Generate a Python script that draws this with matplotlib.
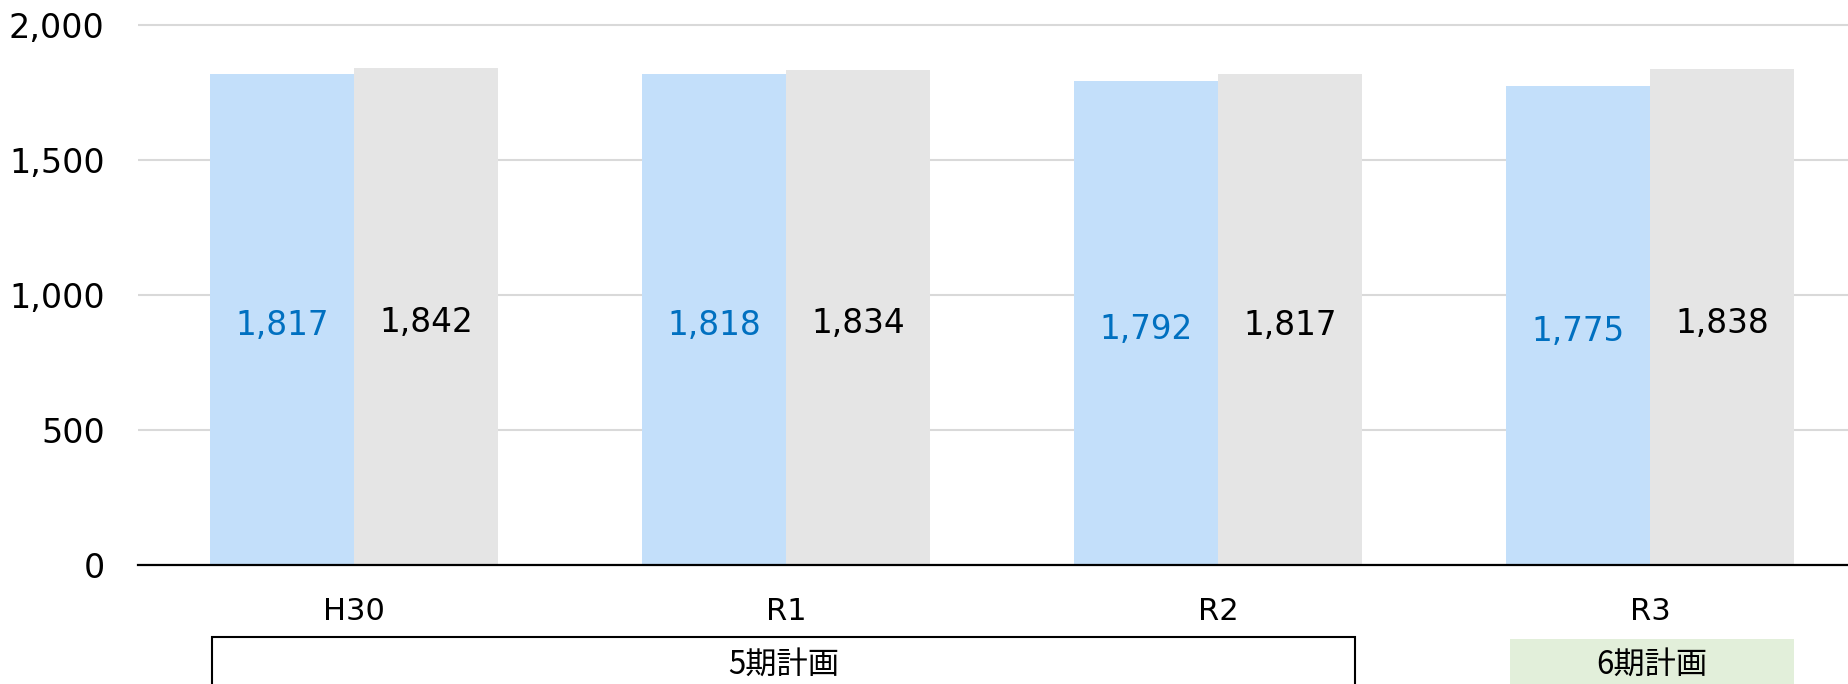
import matplotlib
matplotlib.use("Agg")
import matplotlib.pyplot as plt
from matplotlib.patches import Rectangle
from matplotlib.transforms import blended_transform_factory
import numpy as np

plt.rcParams['font.family'] = ['DejaVu Sans', 'Noto Sans CJK JP']

categories = ["H30", "R1", "R2", "R3"]
series_a = [1817, 1818, 1792, 1775]   # blue
series_b = [1842, 1834, 1817, 1838]   # gray
yticks = [0, 500, 1000, 1500, 2000]
plan_labels = ["5期計画", "6期計画"]
plan_spans = [(0, 2), (3, 3)]

W, H = 1848, 684
fig = plt.figure(figsize=(W / 100, H / 100), dpi=100)
ax_left = 138 / W
ax_bottom = (H - 565) / H
ymax = 2040
ax_top = (H - (565 - 0.27 * ymax)) / H
ax = fig.add_axes([ax_left, ax_bottom, 1 - ax_left, ax_top - ax_bottom])

x = np.arange(len(categories))
bw = 1 / 3
blue = "#C3DFFA"
gray = "#E5E5E5"
ax.bar(x - bw / 2, series_a, width=bw, color=blue, zorder=2)
ax.bar(x + bw / 2, series_b, width=bw, color=gray, zorder=2)

for xi, v in zip(x, series_a):
    ax.annotate(f"{v:,}", (xi - bw / 2, v / 2), xytext=(0, -4.5),
                textcoords="offset points", ha="center", va="center",
                fontsize=23.5, color="#0070C0", zorder=3)
for xi, v in zip(x, series_b):
    ax.annotate(f"{v:,}", (xi + bw / 2, v / 2), xytext=(0, -4.5),
                textcoords="offset points", ha="center", va="center",
                fontsize=23.5, color="black", zorder=3)

ax.set_xlim(-0.5, 3.5 - 18 / 432)
ax.set_ylim(0, ymax)
ax.set_yticks(yticks)
ax.set_yticklabels([f"{t:,}" for t in yticks], fontsize=24)
ax.tick_params(axis="y", length=0, pad=24)
ax.set_xticks([])
ax.grid(axis="y", color="#D9D9D9", linewidth=1.5, zorder=1)
for s in ["top", "right", "left"]:
    ax.spines[s].set_visible(False)
ax.spines["bottom"].set_color("black")
ax.spines["bottom"].set_linewidth(1.6)
ax.spines["bottom"].set_zorder(4)

trans = blended_transform_factory(ax.transData, fig.transFigure)
for xi, c in zip(x, categories):
    ax.text(xi, (H - 612) / H, c, transform=trans, ha="center", va="center",
            fontsize=22, color="black")

# plan boxes
box_top = (H - 637) / H
(s0, e0), (s1, e1) = plan_spans
x0a, x0b = s0 - bw + 0.005, e0 + bw - 0.016
r0 = Rectangle((x0a, -0.1), x0b - x0a, box_top + 0.1,
               transform=trans, facecolor="none", edgecolor="black", linewidth=1.5,
               clip_on=False, zorder=1)
ax.add_patch(r0)
ax.text((x0a + x0b) / 2, (H - 665) / H, plan_labels[0], transform=trans, ha="center",
        va="center", fontsize=22.5, family=["Noto Sans CJK JP"], zorder=5)
x1a, x1b = s1 - bw + 0.009, e1 + bw
r1 = Rectangle((x1a, -0.1), x1b - x1a, box_top - 0.003 + 0.1,
               transform=trans, facecolor="#E2EFDA", edgecolor="none", clip_on=False,
               zorder=1)
ax.add_patch(r1)
ax.text((x1a + x1b) / 2, (H - 665) / H, plan_labels[1], transform=trans, ha="center",
        va="center", fontsize=22.5, family=["Noto Sans CJK JP"], zorder=5)

fig.savefig("out.png", dpi=100)
